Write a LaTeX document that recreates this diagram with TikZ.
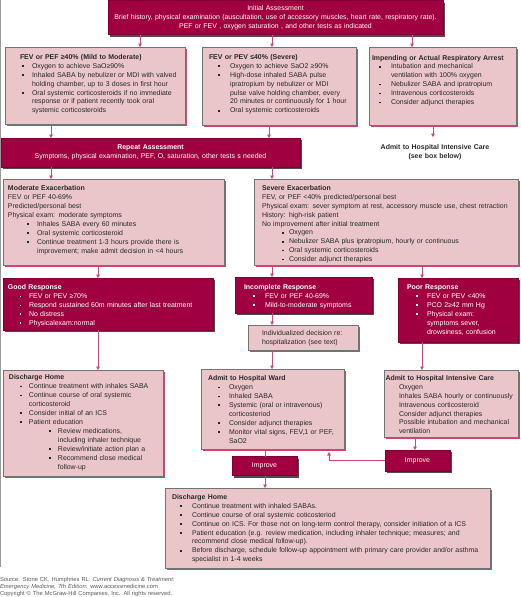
\documentclass[tikz,border=0pt]{standalone}
\usepackage{fontspec}
\setmainfont{Liberation Sans}
\usetikzlibrary{arrows.meta,shadows}
\definecolor{crim}{RGB}{161,0,64}
\definecolor{pinkbg}{RGB}{234,197,202}
\definecolor{pinkshd}{RGB}{196,74,110}
\definecolor{arrcol}{RGB}{206,72,122}
\definecolor{txtgray}{RGB}{40,40,40}
\newenvironment{bul}[2]{\begin{list}{\rule[1.4pt]{1.8pt}{1.8pt}}{\setlength{\leftmargin}{#1}\setlength{\labelsep}{#2}\setlength{\labelwidth}{4pt}\setlength{\itemindent}{0pt}\setlength{\itemsep}{0pt}\setlength{\parsep}{0pt}\setlength{\topsep}{0pt}\setlength{\partopsep}{0pt}}}{\end{list}}
\begin{document}
\begin{tikzpicture}[
	x=1pt, y=-1pt,
	every node/.style={font=\fontsize{6.95}{8.95}\selectfont, inner sep=0pt, outer sep=0pt},
	dbox/.style={anchor=north west, fill=crim, draw=crim!80!black, line width=0.5pt, general shadow={fill=black!70, shadow xshift=2pt, shadow yshift=-2pt}},
	lbox/.style={anchor=north west, fill=pinkbg, draw=black!55, line width=0.5pt, general shadow={fill=pinkshd, shadow xshift=2pt, shadow yshift=-2pt}},
	ltxt/.style={anchor=base west, text width=420pt, align=left, text=txtgray},
	wtxt/.style={anchor=base west, text width=420pt, align=left, text=white},
	ctxt/.style={anchor=base, text width=340pt, align=center, text=white},
	arr/.style={draw=arrcol, line width=0.6pt, -{Triangle[length=3.5pt,width=3.6pt]}}
	]

	\useasboundingbox (0,0) rectangle (520,597);
	\draw[black!40] (0.5,0) -- (0.5,567);

	\node[dbox, minimum width=335pt, minimum height=34pt] (init) at (108,0.5) {};
	\node[ctxt] (initt) at (275.5,10.5) {Initial Assessment\\Brief history, physical examination (auscultation, use of accessory muscles, heart rate, respiratory rate).\\PEF or FEV , oxygen saturation , and other tests as indicated};

	\node[lbox, minimum width=180pt, minimum height=77pt] (mild) at (5,47) {};
	\node[ltxt] (mildt) at (20,59.2) {\textbf{FEV or PEF ≥40\% (Mild to Moderate)}\begin{bul}{12pt}{8.5pt}\item Oxygen to achieve SaO≥90\%\item Inhaled SABA by nebulizer or MDI with valved\\holding chamber, up to 3 doses in first hour\item Oral systemic corticosteroids if no immediate\\response or if patient recently took oral\\systemic corticosteroids\end{bul}};

	\node[lbox, minimum width=154pt, minimum height=78pt] (sev) at (202,47) {};
	\node[ltxt] (sevt) at (209,59.2) {\textbf{FEV or PEV ≤40\% (Severe)}\begin{bul}{21pt}{10pt}\item Oxygen to achieve SaO2 ≥90\%\item High-dose inhaled SABA pulse\\ipratropium by nebulizer or MDI\\pulse valve holding chamber, every\\20 minutes or continuously for 1 hour\item Oral systemic corticosteroids\end{bul}};

	\node[lbox, minimum width=147pt, minimum height=78pt] (arrest) at (369,47) {};
	\node[ltxt] (arrestt) at (372,60) {\textbf{Impending or Actual Respiratory Arrest}\begin{bul}{19pt}{10pt}\item Intubation and mechanical\\ventilation with 100\% oxygen\item Nebulizer SABA and ipratropium\item Intravenous corticosteroids\item Consider adjunct therapies\end{bul}};

	\node[ctxt, text width=150pt, text=txtgray] (icunote) at (435,149.2) {\textbf{Admit to Hospital Intensive Care}\\\textbf{(see box below)}};

	\node[dbox, minimum width=299pt, minimum height=29pt] (rep) at (1,138) {};
	\node[ctxt] (rept) at (150.5,149.2) {\textbf{Repeat Assessment}\\Symptoms, physical examination, PEF, O, saturation, other tests s needed};

	\node[lbox, minimum width=221pt, minimum height=86pt] (modex) at (3,179) {};
	\node[ltxt] (modext) at (8,190.5) {\textbf{Moderate Exacerbation}\\FEV or PEF 40-69\%\\Predicted/personal best\\Physical exam: moderate symptoms\begin{bul}{29pt}{8pt}\item Inhales SABA every 60 minutes\item Oral systemic corticosteroid\item Continue treatment 1-3 hours provide there is\\improvement; make admit decision in <4 hours\end{bul}};

	\node[lbox, minimum width=264pt, minimum height=86pt] (sevex) at (254,179) {};
	\node[ltxt] (sevext) at (262,190.2) {\textbf{Severe Exacerbation}\\FEV, or PEF <40\% predicted/personal best\\Physical exam: sever symptom at rest, accessory muscle use, chest retraction\\History: high-risk patient\\No improvement after initial treatment\begin{bul}{27pt}{5pt}\item Oxygen\item Nebulizer SABA plus ipratropium, hourly or continuous\item Oral systemic corticosteroids\item Consider adjunct therapies\end{bul}};

	\node[dbox, minimum width=210pt, minimum height=52pt] (good) at (3,278) {};
	\node[wtxt] (goodt) at (8,289.8) {\textbf{Good Response}\begin{bul}{21pt}{7.5pt}\item FEV or PEV ≥70\%\item Respond sustained 60m minutes after last treatment\item No distress\item Physicalexam:normal\end{bul}};

	\node[dbox, minimum width=137pt, minimum height=36pt] (incomp) at (235,277) {};
	\node[wtxt] (incompt) at (244,289.2) {\textbf{Incomplete Response}\begin{bul}{21pt}{10pt}\item FEV or PEF 40-69\%\item Mild-to-moderate symptoms\end{bul}};

	\node[dbox, minimum width=120pt, minimum height=64pt] (poor) at (398,278) {};
	\node[wtxt] (poort) at (407,289.5) {\textbf{Poor Response}\begin{bul}{20pt}{9pt}\item FEV or PEV <40\%\item PCO 2≥42 mm Hg\item Physical exam:\\symptoms sever,\\drowsiness, confusion\end{bul}};

	\node[lbox, minimum width=110pt, minimum height=25pt] (indiv) at (248,325) {};
	\node[ltxt] (indivt) at (262,335.8) {Individualized decision re:\\hospitalization (see text)};

	\node[lbox, minimum width=160pt, minimum height=106pt] (dhome) at (3,370) {};
	\node[ltxt] (dhomet) at (9,379.8) {\textbf{Discharge Home}\begin{bul}{20pt}{7pt}\item Continue treatment with inhales SABA\item Continue course of oral systemic\\corticosteroid\item Consider initial of an ICS\item Patient education\begin{bul}{29pt}{7pt}\item Review medications,\\including inhaler technique\item Review/initiate action plan a\item Recommend close medical\\follow-up\end{bul}\end{bul}};

	\node[lbox, minimum width=143pt, minimum height=80pt] (ward) at (201,369) {};
	\node[ltxt] (wardt) at (208,380.8) {\textbf{Admit to Hospital Ward}\begin{bul}{21pt}{9pt}\item Oxygen\item Inhaled SABA\item Systemic (oral or intravenous)\\corticosteriod\item Consider adjunct therapies\item Monitor vital signs, FEV,1 or PEF,\\SaO2\end{bul}};

	\node[lbox, minimum width=134pt, minimum height=67pt] (icu) at (384,370) {};
	\node[ltxt] (icut) at (385.5,380.2) {\textbf{Admit to Hospital Intensive Care}\begin{bul}{13.5pt}{0pt}\item[] Oxygen\item[] Inhales SABA hourly or continuously\item[] Intravenous corticosteroid\item[] Consider adjunct therapies\item[] Possible intubation and mechanical\\ventilation\end{bul}};

	\node[dbox, minimum width=65pt, minimum height=19pt, text=white] (impw) at (232,456.5) {Improve};
	\node[dbox, minimum width=65pt, minimum height=21pt, text=white] (impi) at (385,450) {Improve};

	\node[lbox, minimum width=325pt, minimum height=80pt] (dischb) at (165,488) {};
	\node[ltxt] (dischbt) at (172,499.2) {\textbf{Discharge Home}\begin{bul}{20pt}{10pt}\item Continue treatment with inhaled SABAs.\item Continue course of oral systemic coticosteriod\item Continue on ICS. For those not on long-term control therapy, consider initiation of a ICS\item Patient education (e.g. review medication, including inhaler technique; measures; and\\recommend close medical follow-up).\item Before discharge, schedule follow-up appointment with primary care provider and/or asthma\\specialist in 1-4 weeks\end{bul}};

	\node[anchor=base west, text width=220pt, align=left, font=\fontsize{5.8}{7}\selectfont, text=black!65] (src) at (0,581.8) {Source: Stone CK, Humphries RL: \textit{Current Diagnosis \& Treatment:}\\\textit{Emergency Medicine, 7th Edition}: www.accessmedicine.com\\Copyright © The McGraw-Hill Companies, Inc. All rights reserved.};

	\draw[arr] (init.south -| 140,0) -- (mild.north -| 140,0);
	\draw[arr] (init.south -| 272,0) -- (sev.north -| 272,0);
	\draw[arr] (init.south -| 412,0) -- (arrest.north -| 412,0);
	\draw[arr] (mild.south -| 51,0) -- (rep.north -| 51,0);
	\draw[arr] (sev.south -| 269,0) -- (rep.north -| 269,0);
	\draw[arr, shorten >=7pt] (arrest.south -| 433,0) -- (icunote.north -| 433,0);
	\draw[arr] (rep.south -| 51,0) -- (modex.north -| 51,0);
	\draw[arr] (rep.south -| 272,0) -- (sevex.north -| 272,0);
	\draw[arr] (modex.south -| 98,0) -- (good.north -| 98,0);
	\draw[arr] (sevex.south -| 272,0) -- (incomp.north -| 272,0);
	\draw[arr] (sevex.south -| 422,0) -- (poor.north -| 422,0);
	\draw[arr] (good.south -| 98,0) -- (dhome.north -| 98,0);
	\draw[arr] (incomp.south -| 272,0) -- (indiv.north -| 272,0);
	\draw[arr] (indiv.south -| 272,0) -- (ward.north -| 272,0);
	\draw[arr] (poor.south -| 422,0) -- (icu.north -| 422,0);
	\draw[arrcol, line width=0.6pt] (ward.south -| 265,0) -- (impw.north -| 265,0);
	\draw[arr] (impw.south -| 265,0) -- (dischb.north -| 265,0);
	\draw[arr] (icu.south -| 415,0) -- (impi.north -| 415,0);
	\draw[arr, shorten >=3pt] (impi.west) -| (ward.south -| 329,0);

\end{tikzpicture}
\end{document}
